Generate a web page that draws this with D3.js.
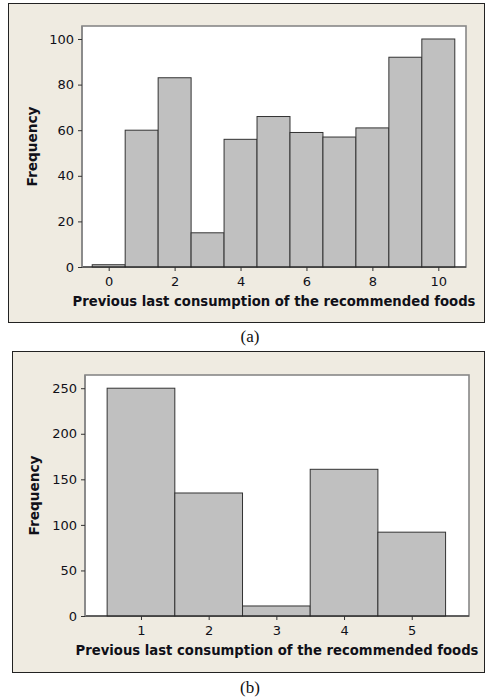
<!DOCTYPE html>
<html>
<head>
<meta charset="utf-8">
<script src="https://cdn.jsdelivr.net/npm/d3@7"></script>
<style>
  html, body { margin: 0; padding: 0; background: #ffffff; }
  svg { display: block; }
</style>
</head>
<body>
<svg id="chart" width="485" height="699"></svg>
<script>
// ---- Data ----
const binsA = [0, 1, 2, 3, 4, 5, 6, 7, 8, 9, 10];
const valuesA = [1, 60, 83, 15, 56, 66, 59, 57, 61, 92, 100];
const xTicksA = [0, 2, 4, 6, 8, 10];
const yTicksA = [0, 20, 40, 60, 80, 100];

const binsB = [1, 2, 3, 4, 5];
const valuesB = [250, 135, 11, 161, 92];
const xTicksB = [1, 2, 3, 4, 5];
const yTicksB = [0, 50, 100, 150, 200, 250];

const xTitle = "Previous last consumption of the recommended foods";
const yTitle = "Frequency";
const captions = ["(a)", "(b)"];

// ---- Drawing ----
const svg = d3.select("#chart");
const BG = "#efebe1";
const BAR = "#c0c0c0";
const INK = "#101018";

function panel(cfg) {
  const g = svg.append("g");
  // outer frame
  g.append("rect")
    .attr("x", cfg.frame[0] + 0.5).attr("y", cfg.frame[1] + 0.5)
    .attr("width", cfg.frame[2] - cfg.frame[0]).attr("height", cfg.frame[3] - cfg.frame[1])
    .attr("fill", BG).attr("stroke", "#222").attr("stroke-width", 1);

  const [L, T, R, B] = cfg.plot;
  const x = d3.scaleLinear().domain(cfg.xDomain).range([L, R]);
  const y = d3.scaleLinear().domain(cfg.yDomain).range([B, T]);

  // plot area
  g.append("rect")
    .attr("x", L).attr("y", T).attr("width", R - L).attr("height", B - T)
    .attr("fill", "#fff").attr("stroke", "#888").attr("stroke-width", 1.6);

  // bars
  g.append("g").selectAll("rect").data(cfg.bins).join("rect")
    .attr("x", (d) => x(d - 0.5))
    .attr("width", (d) => x(d + 0.5) - x(d - 0.5))
    .attr("y", (d, i) => y(cfg.values[i]))
    .attr("height", (d, i) => y(0) - y(cfg.values[i]))
    .attr("fill", BAR).attr("stroke", "#333").attr("stroke-width", 1);

  // axes
  const fmt = d3.format("d");
  const xAxis = d3.axisBottom(x).tickValues(cfg.xTicks).tickFormat(fmt).tickSize(4).tickPadding(6).tickSizeOuter(0);
  const yAxis = d3.axisLeft(y).tickValues(cfg.yTicks).tickFormat(fmt).tickSize(4).tickPadding(4).tickSizeOuter(0);

  const gx = g.append("g").attr("transform", `translate(0,${B})`).call(xAxis);
  gx.select(".domain").attr("stroke", "#222").attr("d", `M${L},0H${R}`);
  const gy = g.append("g").attr("transform", `translate(${L},0)`).call(yAxis);
  gy.select(".domain").attr("stroke", "#888").attr("stroke-width", 1.6).attr("d", `M0,${T}V${B}`);

  [gx, gy].forEach((a) => {
    a.selectAll(".tick line").attr("stroke", "#333");
    a.selectAll(".tick text")
      .attr("fill", INK)
      .style("font-family", "'DejaVu Sans', sans-serif")
      .style("font-size", "13px");
  });

  // x title
  g.append("text")
    .attr("x", (L + R) / 2).attr("y", cfg.xTitleY)
    .attr("text-anchor", "middle")
    .attr("fill", INK)
    .style("font-family", "'DejaVu Sans Condensed', 'DejaVu Sans', sans-serif")
    .style("font-weight", "bold").style("font-size", "14.5px")
    .attr("textLength", 403).attr("lengthAdjust", "spacingAndGlyphs")
    .text(xTitle);

  // y title
  g.append("text")
    .attr("transform", `translate(${cfg.yTitleX},${(T + B) / 2}) rotate(-90)`)
    .attr("text-anchor", "middle")
    .attr("fill", INK)
    .style("font-family", "'DejaVu Sans Condensed', 'DejaVu Sans', sans-serif")
    .style("font-weight", "bold").style("font-size", "14.5px")
    .attr("textLength", 80).attr("lengthAdjust", "spacingAndGlyphs")
    .text(yTitle);

  // caption
  svg.append("text")
    .attr("x", 250).attr("y", cfg.capY)
    .attr("text-anchor", "middle")
    .attr("fill", "#111")
    .style("font-family", "'Liberation Serif', 'Times New Roman', serif")
    .style("font-size", "17px")
    .text(cfg.caption);
}

panel({
  frame: [8, 3, 484, 322],
  plot: [82, 26, 466, 267],
  xDomain: [-0.81, 10.84],
  yDomain: [0, 105.7],
  bins: binsA, values: valuesA, xTicks: xTicksA, yTicks: yTicksA,
  xTitleY: 306, yTitleX: 36.5, capY: 342, caption: captions[0]
});

panel({
  frame: [12, 351, 484, 672],
  plot: [85, 375, 469, 616],
  xDomain: [0.173, 5.846],
  yDomain: [0, 264.5],
  bins: binsB, values: valuesB, xTicks: xTicksB, yTicks: yTicksB,
  xTitleY: 655, yTitleX: 39, capY: 693, caption: captions[1]
});
</script>
</body>
</html>
